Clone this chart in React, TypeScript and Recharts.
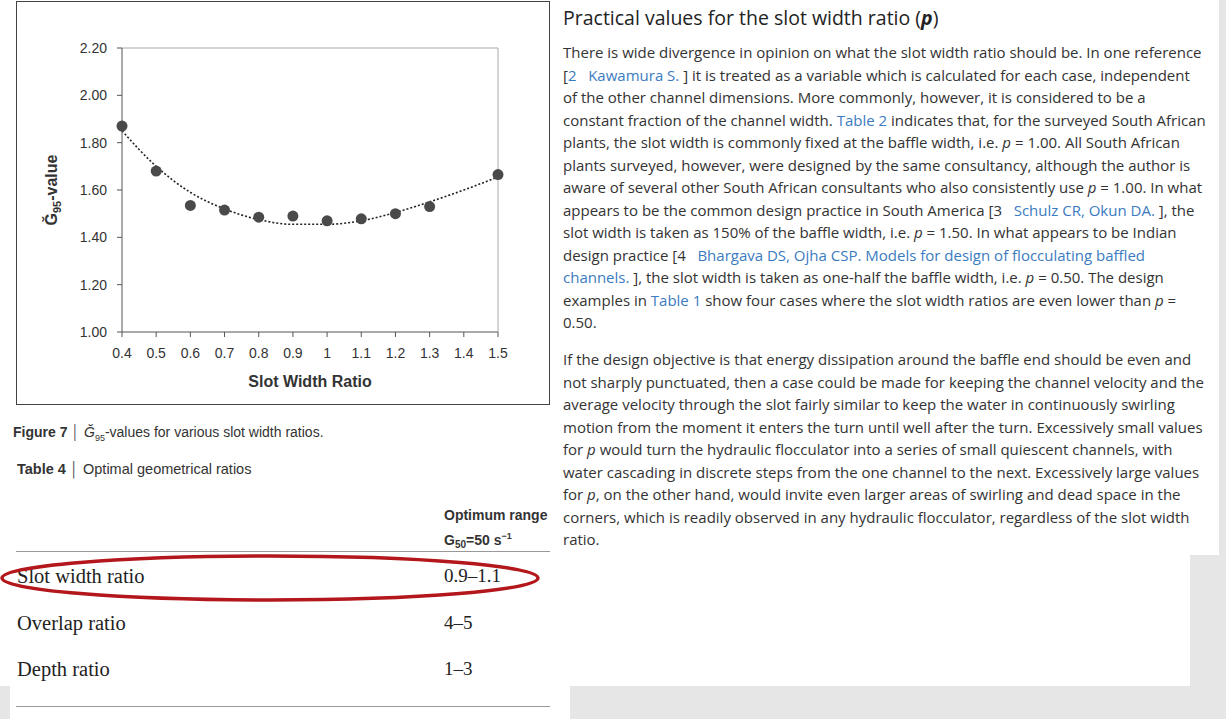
import React from "react";
import {
  ComposedChart,
  Line,
  Scatter,
  XAxis,
  YAxis,
  ReferenceLine,
} from "recharts";

const slotRatios = [0.4, 0.5, 0.6, 0.7, 0.8, 0.9, 1.0, 1.1, 1.2, 1.3, 1.5];
const g95Values = [1.87, 1.68, 1.535, 1.515, 1.485, 1.49, 1.47, 1.478, 1.5, 1.53, 1.665];
const trendRatios = [0.4, 0.5, 0.6, 0.7, 0.8, 0.9, 1.0, 1.1, 1.2, 1.3, 1.4, 1.5];
const trendValues = [1.85, 1.7, 1.59, 1.52, 1.475, 1.455, 1.455, 1.47, 1.505, 1.55, 1.6, 1.655];
const xTicks = [0.4, 0.5, 0.6, 0.7, 0.8, 0.9, 1, 1.1, 1.2, 1.3, 1.4, 1.5];
const yTicks = [1.0, 1.2, 1.4, 1.6, 1.8, 2.0, 2.2];

const points = slotRatios.map((x, i) => ({ x, y: g95Values[i] }));
const trend = trendRatios.map((x, i) => ({ x, y: trendValues[i] }));

const CHART_FONT = "'Liberation Sans', Arial, sans-serif";
const NARROW_FONT = "'Liberation Sans Narrow', 'Liberation Sans', Arial, sans-serif";
const TEXT_FONT = "'Open Sans', sans-serif";
const LINK = "#3b7bbf";

const para1: React.ReactNode[] = [
  "There is wide divergence in opinion on what the slot width ratio should be. In one reference",
  <>[<a>2&nbsp;&nbsp;&nbsp;Kawamura S.</a> ] it is treated as a variable which is calculated for each case, independent</>,
  "of the other channel dimensions. More commonly, however, it is considered to be a",
  <>constant fraction of the channel width. <a>Table 2</a> indicates that, for the surveyed South African</>,
  <>plants, the slot width is commonly fixed at the baffle width, i.e. <i>p</i> = 1.00. All South African</>,
  "plants surveyed, however, were designed by the same consultancy, although the author is",
  <>aware of several other South African consultants who also consistently use <i>p</i> = 1.00. In what</>,
  <>appears to be the common design practice in South America [3&nbsp;&nbsp;&nbsp;<a>Schulz CR, Okun DA.</a> ], the</>,
  <>slot width is taken as 150% of the baffle width, i.e. <i>p</i> = 1.50. In what appears to be Indian</>,
  <>design practice [4&nbsp;&nbsp;&nbsp;<a>Bhargava DS, Ojha CSP. Models for design of flocculating baffled</a></>,
  <><a>channels.</a> ], the slot width is taken as one-half the baffle width, i.e. <i>p</i> = 0.50. The design</>,
  <>examples in <a>Table 1</a> show four cases where the slot width ratios are even lower than <i>p</i> =</>,
  "0.50.",
];

const para2: React.ReactNode[] = [
  "If the design objective is that energy dissipation around the baffle end should be even and",
  "not sharply punctuated, then a case could be made for keeping the channel velocity and the",
  "average velocity through the slot fairly similar to keep the water in continuously swirling",
  "motion from the moment it enters the turn until well after the turn. Excessively small values",
  <>for <i>p</i> would turn the hydraulic flocculator into a series of small quiescent channels, with</>,
  "water cascading in discrete steps from the one channel to the next. Excessively large values",
  <>for <i>p</i>, on the other hand, would invite even larger areas of swirling and dead space in the</>,
  "corners, which is readily observed in any hydraulic flocculator, regardless of the slot width",
  "ratio.",
];

const tableRows = [
  { name: "Slot width ratio", range: "0.9–1.1" },
  { name: "Overlap ratio", range: "4–5" },
  { name: "Depth ratio", range: "1–3" },
];

function YLabel({ viewBox }: any) {
  const cx = 40;
  const cy = viewBox.y + viewBox.height / 2;
  return (
    <text
      transform={`translate(${cx},${cy}) rotate(-90)`}
      textAnchor="middle"
      fontFamily={CHART_FONT}
      fontWeight="bold"
      fontSize={16}
      fill="#333"
    >
      Ğ<tspan fontSize={11} dy={4}>95</tspan>
      <tspan dy={-4}>-value</tspan>
    </text>
  );
}

function Lines({ rows }: { rows: React.ReactNode[] }) {
  return (
    <>
      {rows.map((r, i) => (
        <div key={i} style={{ whiteSpace: "nowrap", height: 22.5 }}>
          {r}
        </div>
      ))}
    </>
  );
}

export default function App() {
  return (
    <div
      style={{
        position: "relative",
        width: 1226,
        height: 719,
        background: "#e6e6e6",
        overflow: "hidden",
        fontFamily: TEXT_FONT,
      }}
    >
      <style>{`body{margin:0} a{color:${LINK};text-decoration:none}`}</style>
      {/* white panels */}
      <div style={{ position: "absolute", left: 0, top: 0, width: 1219, height: 555, background: "#fff" }} />
      <div style={{ position: "absolute", left: 0, top: 555, width: 1190, height: 131, background: "#fff" }} />
      <div style={{ position: "absolute", left: 10, top: 686, width: 560, height: 33, background: "#fff" }} />

      {/* chart */}
      <div
        style={{
          position: "absolute",
          left: 16,
          top: 1,
          width: 532,
          height: 402,
          border: "1px solid #444",
          background: "#fff",
        }}
      >
        <ComposedChart
          width={532}
          height={402}
          margin={{ top: 46, right: 51, bottom: 0, left: 0 }}
        >
          <XAxis
            dataKey="x"
            type="number"
            domain={[0.4, 1.5]}
            ticks={xTicks}
            interval={0}
            allowDuplicatedCategory={false}
            height={72}
            stroke="#555"
            tickSize={5}
            tick={{ fontSize: 14, fill: "#333", fontFamily: CHART_FONT, dy: 9 }}
            tickFormatter={(v: number) => (v === 1 ? "1" : String(v))}
            label={{
              value: "Slot Width Ratio",
              position: "insideBottom",
              offset: 17,
              fontSize: 16,
              fontWeight: "bold",
              fill: "#333",
              fontFamily: CHART_FONT,
            }}
          />
          <YAxis
            dataKey="y"
            type="number"
            domain={[1, 2.2]}
            ticks={yTicks}
            width={105}
            stroke="#555"
            tickSize={5}
            tick={{ fontSize: 14, fill: "#333", fontFamily: CHART_FONT, dx: -8 }}
            tickFormatter={(v: number) => v.toFixed(2)}
            label={<YLabel />}
          />
          <ReferenceLine y={2.2} stroke="#aaa" />
          <ReferenceLine x={1.5} stroke="#aaa" />
          <Line
            data={trend}
            dataKey="y"
            type="monotone"
            stroke="#222"
            strokeWidth={1.6}
            strokeDasharray="2 2"
            dot={false}
            isAnimationActive={false}
          />
          <Scatter
            data={points}
            dataKey="y"
            fill="#4a4a4a"
            shape={(p: any) => <circle cx={p.cx} cy={p.cy} r={5.5} fill="#4a4a4a" />}
            isAnimationActive={false}
          />
        </ComposedChart>
      </div>

      {/* captions and table */}
      <div
        style={{
          position: "absolute",
          left: 13,
          top: 424,
          fontFamily: NARROW_FONT,
          fontSize: 14,
          color: "#333",
          whiteSpace: "nowrap",
        }}
      >
        <b>Figure 7</b> <span style={{ color: "#555" }}>│</span> <i>Ğ</i>
        <sub style={{ fontSize: 9 }}>95</sub>-values for various slot width ratios.
      </div>
      <div
        style={{
          position: "absolute",
          left: 17,
          top: 461,
          fontFamily: NARROW_FONT,
          fontSize: 14.5,
          color: "#333",
          whiteSpace: "nowrap",
        }}
      >
        <b>Table 4</b> <span style={{ color: "#555" }}>│</span> Optimal geometrical ratios
      </div>
      <div
        style={{
          position: "absolute",
          left: 444,
          top: 505,
          fontFamily: CHART_FONT,
          fontSize: 14,
          fontWeight: "bold",
          color: "#333",
          lineHeight: "21px",
          whiteSpace: "nowrap",
        }}
      >
        <div>Optimum range</div>
        <div>
          G<sub style={{ fontSize: 10 }}>50</sub>=50 s<sup style={{ fontSize: 9 }}>−1</sup>
        </div>
      </div>
      <div style={{ position: "absolute", left: 16, top: 551, width: 534, height: 1, background: "#999" }} />
      <div style={{ position: "absolute", left: 16, top: 706, width: 534, height: 1, background: "#999" }} />
      {tableRows.map((r, i) => (
        <React.Fragment key={r.name}>
          <div
            style={{
              position: "absolute",
              left: 17,
              top: 565 + i * 46.5,
              fontFamily: "'Liberation Serif', serif",
              fontSize: 20.5,
              color: "#222",
              whiteSpace: "nowrap",
            }}
          >
            {r.name}
          </div>
          <div
            style={{
              position: "absolute",
              left: 444,
              top: 565 + i * 46.5,
              fontFamily: "'Liberation Serif', serif",
              fontSize: 19,
              color: "#222",
              whiteSpace: "nowrap",
            }}
          >
            {r.range}
          </div>
        </React.Fragment>
      ))}
      <svg style={{ position: "absolute", left: 0, top: 550 }} width={560} height={60}>
        <ellipse cx={270} cy={28} rx={268} ry={22} fill="none" stroke="#b3161b" strokeWidth={3.5} />
      </svg>

      {/* right column text */}
      <div
        style={{
          position: "absolute",
          left: 563,
          top: 4,
          fontSize: 19.5,
          color: "#222",
          whiteSpace: "nowrap",
        }}
      >
        Practical values for the slot width ratio (<b><i>p</i></b>)
      </div>
      <div
        style={{
          position: "absolute",
          left: 563,
          top: 41,
          fontSize: 15,
          lineHeight: "22.5px",
          color: "#333",
        }}
      >
        <Lines rows={para1} />
      </div>
      <div
        style={{
          position: "absolute",
          left: 563,
          top: 348,
          fontSize: 15,
          lineHeight: "22.5px",
          color: "#333",
        }}
      >
        <Lines rows={para2} />
      </div>
    </div>
  );
}
